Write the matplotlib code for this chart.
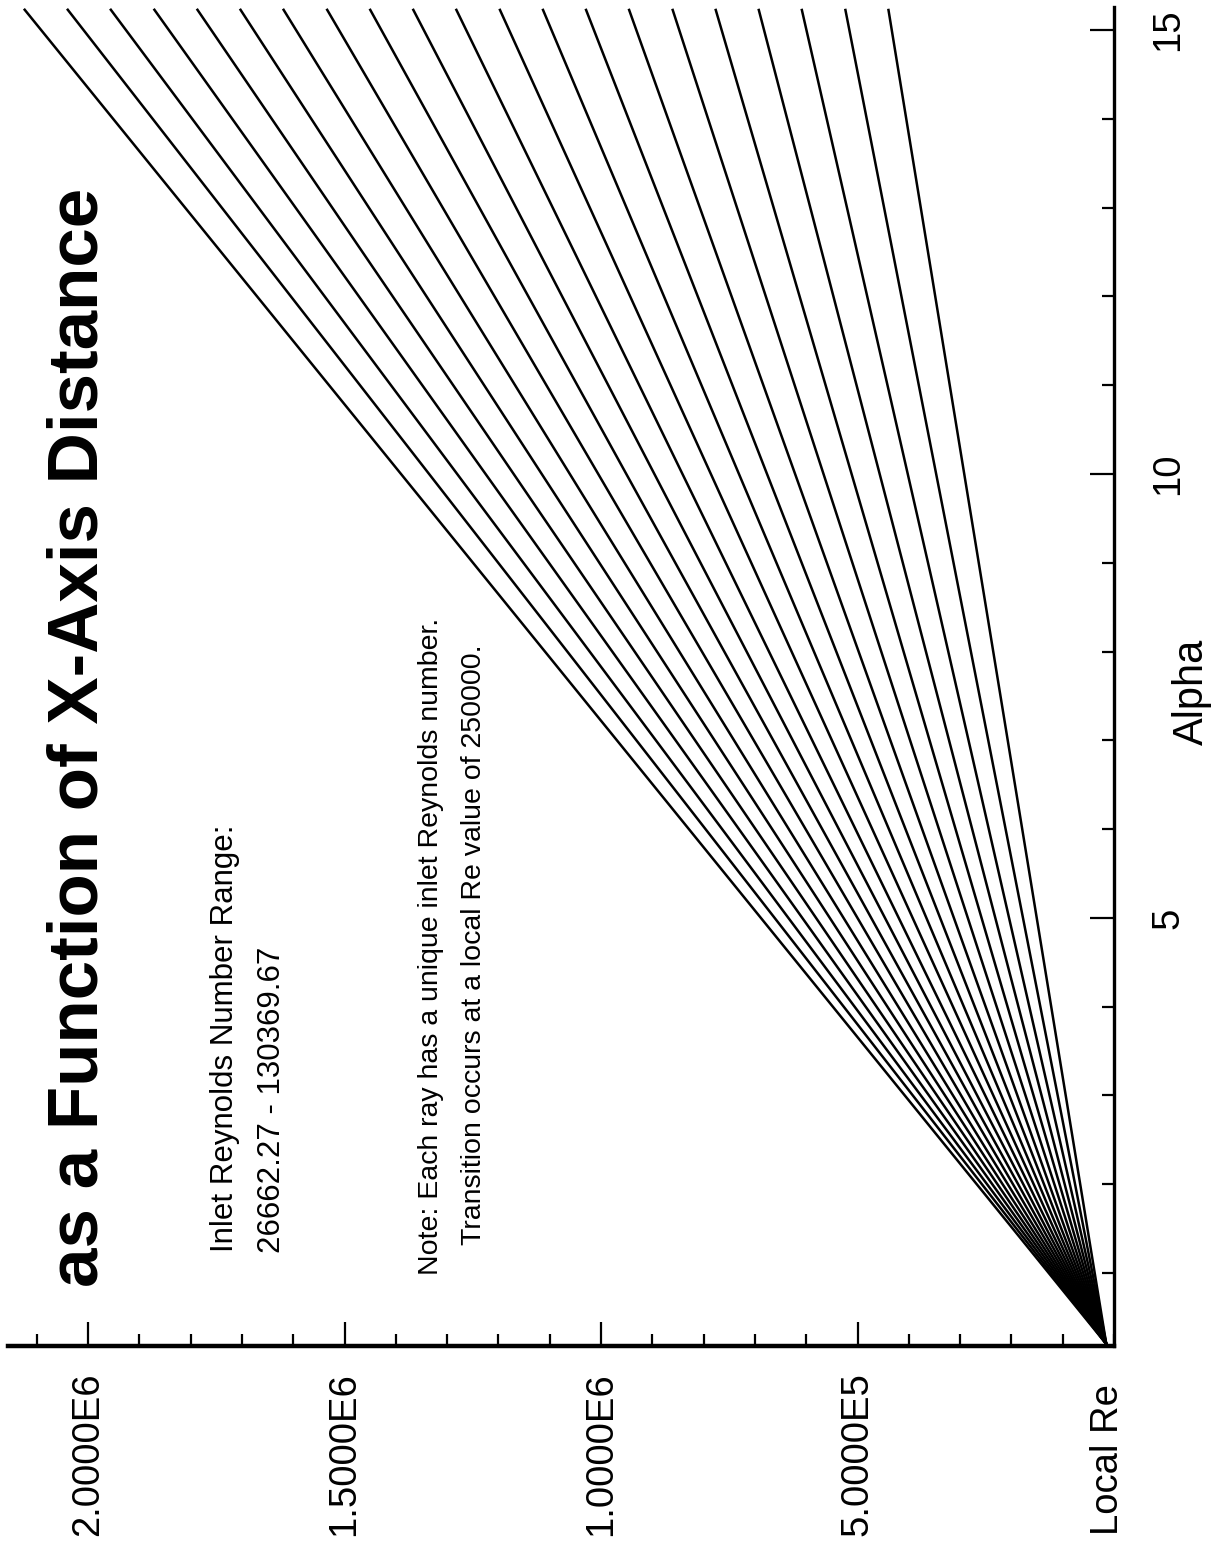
import matplotlib
matplotlib.use("Agg")
import matplotlib.pyplot as plt
from matplotlib.ticker import FixedLocator, MultipleLocator, FuncFormatter

plt.rcParams["font.family"] = ["Liberation Sans", "DejaVu Sans"]

W, H, DPI = 1214, 1547, 100

# Local Re reached by each ray at the end of the run (one ray per inlet Re), high to low
ray_local_re_end = [
    2.125e6, 2.041e6, 1.957e6, 1.872e6, 1.788e6, 1.704e6, 1.620e6,
    1.535e6, 1.451e6, 1.367e6, 1.283e6, 1.198e6, 1.114e6, 1.030e6,
    0.946e6, 0.861e6, 0.777e6, 0.693e6, 0.609e6, 0.524e6, 0.440e6,
]
# all rays leave from the same point near the leading edge
alpha_start = 0.2
local_re_start = 1.5e4
alpha_end = 15.24

re_major_ticks = [5e5, 1e6, 1.5e6, 2e6]
alpha_major_ticks = [5, 10, 15]

title_text = "as a Function of X-Axis Distance"
range_lines = ["Inlet Reynolds Number Range:", "26662.27 - 130369.67"]
note_lines = ["Note: Each ray has a unique inlet Reynolds number.",
              "Transition occurs at a local Re value of 250000."]


def px(x, y):
    """pixel position (from top-left) -> figure fraction"""
    return x / W, 1 - y / H


fig = plt.figure(figsize=(W / DPI, H / DPI), dpi=DPI)
ax = fig.add_axes([8 / W, (H - 1346) / H, 1106 / W, 1339 / H])

for re_end in ray_local_re_end:
    ax.plot([local_re_start, re_end], [alpha_start, alpha_end],
            color="black", lw=1.8, solid_capstyle="butt")

# Local Re runs right-to-left along the bottom, Alpha bottom-to-top on the right
ax.set_xlim(2.156e6, 0)
ax.set_ylim(0.178, 15.26)

for side in ("top", "left"):
    ax.spines[side].set_visible(False)
ax.spines["bottom"].set_linewidth(3.2)
ax.spines["right"].set_linewidth(2.4)


def sci_label(v, pos):
    s = "%.4E" % v
    mant, exp = s.split("E")
    return "%sE%d" % (mant, int(exp))


ax.xaxis.set_major_locator(FixedLocator(re_major_ticks))
ax.xaxis.set_minor_locator(MultipleLocator(1e5))
ax.xaxis.set_major_formatter(FuncFormatter(sci_label))
ax.tick_params(axis="x", which="major", direction="in", length=17, width=1.6,
               pad=19, labelsize=27.5, labelrotation=90)
ax.tick_params(axis="x", which="minor", direction="in", length=9, width=1.6)

ax.yaxis.tick_right()
ax.yaxis.set_major_locator(FixedLocator(alpha_major_ticks))
ax.yaxis.set_minor_locator(MultipleLocator(1))
ax.yaxis.set_major_formatter(FuncFormatter(lambda v, p: "%d" % v))
ax.tick_params(axis="y", which="major", direction="in", length=17, width=1.6,
               pad=26, labelsize=27.5, labelrotation=90)
ax.tick_params(axis="y", which="minor", direction="in", length=9, width=1.6)
for t in ax.yaxis.get_major_ticks():
    t.label2.set_verticalalignment("center")

rot = dict(rotation=90, rotation_mode="anchor", ha="left", va="baseline")

fig.text(*px(98, 1287), title_text, fontsize=51, fontweight="bold", **rot)
fig.text(*px(233, 1252), range_lines[0], fontsize=22.5, **rot)
fig.text(*px(280, 1253), range_lines[1], fontsize=22.5, **rot)
fig.text(*px(438, 1275), note_lines[0], fontsize=20.5, **rot)
fig.text(*px(481, 1245), note_lines[1], fontsize=20.5, **rot)

fig.text(*px(1203, 745), "Alpha", fontsize=30, **rot)
fig.text(*px(1118, 1535), "Local Re", fontsize=27.5, **rot)

fig.savefig("out.png", dpi=DPI)
